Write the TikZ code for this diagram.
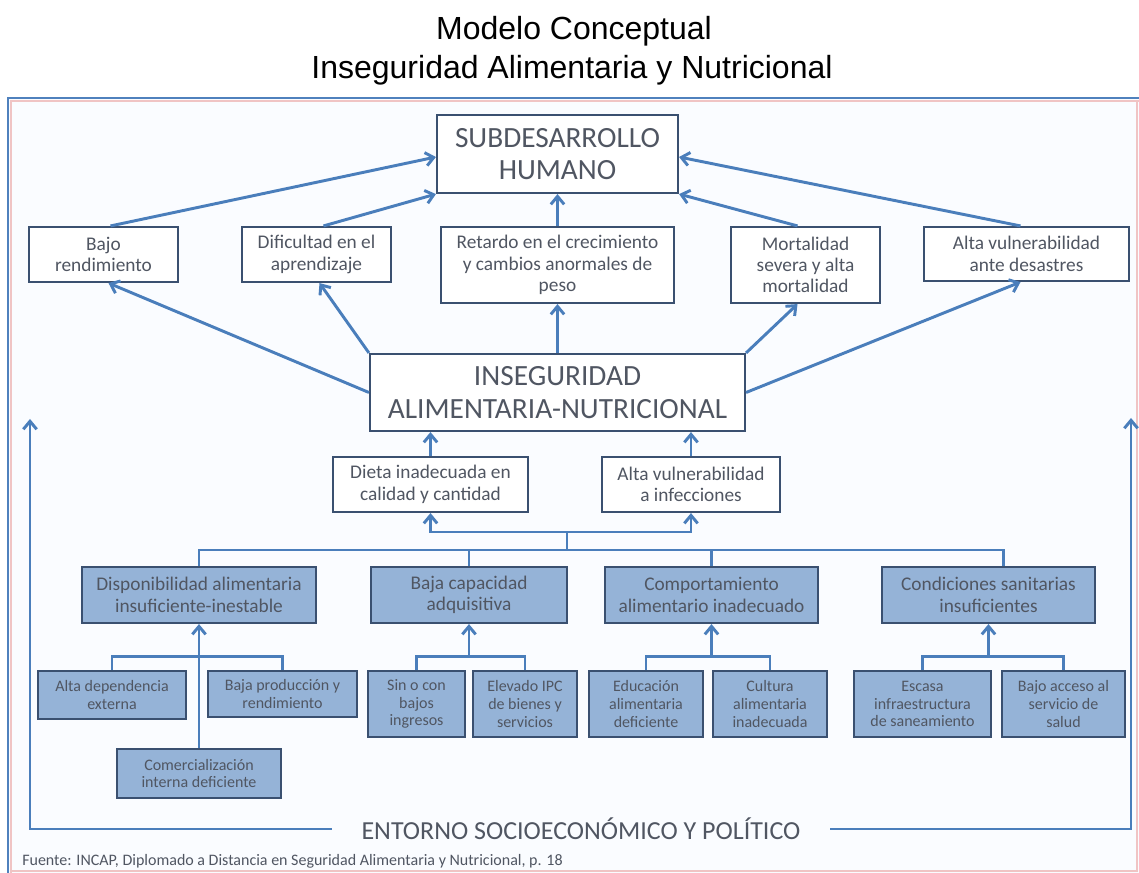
\documentclass[tikz,border=0pt]{standalone}
\usepackage{fontspec}
\setmainfont{Carlito}
\newfontfamily\titlef{Liberation Sans}
\usetikzlibrary{calc,arrows.meta}
\definecolor{lineblue}{RGB}{74,126,187}
\definecolor{boxborder}{RGB}{58,80,112}
\definecolor{txt}{RGB}{80,86,98}
\definecolor{catfill}{RGB}{149,179,215}
\definecolor{framebg}{RGB}{250,252,255}
\definecolor{frameblue}{RGB}{79,129,189}
\definecolor{framepink}{RGB}{240,196,196}
\tikzset{
  ln/.style={draw=lineblue, line width=2.2pt},
  arr/.style={ln, -{Straight Barb[length=6pt,width=10pt]}},
  bx/.style={draw=boxborder, line width=1.6pt, fill=white, inner sep=0pt, align=center, text=txt},
  sz/.style 2 args={minimum width=#1pt, minimum height=#2pt},
  big/.style={bx, font=\fontsize{22}{24.5}\selectfont},
  mid/.style={bx, font=\fontsize{14.5}{16}\selectfont},
  cat/.style={mid, fill=catfill},
  sml/.style={bx, fill=catfill, font=\fontsize{12}{13.3}\selectfont},
}
\begin{document}
\begin{tikzpicture}[x=0.75pt,y=-0.75pt]
\useasboundingbox (0,0) rectangle (1139,873);
\fill[white] (0,0) rectangle (1139,873);
% frame
\fill[framebg] (8,98) rectangle (1139,873);
\draw[framepink, line width=0.9pt] (11,873) -- (11,101) -- (1139,101);
\draw[framepink, line width=0.9pt] (11,871) -- (1137,871) -- (1137,101);
\draw[frameblue, line width=2pt] (8,873) -- (8,98) -- (1139,98);
% titles
\node[font=\titlef\fontsize{24}{28}\selectfont, anchor=base] (t1) at (574,40) {Modelo Conceptual};
\node[font=\titlef\fontsize{24}{28}\selectfont, anchor=base] (t2) at (572,79) {Inseguridad Alimentaria y Nutricional};
% top
\node[big, sz={180.75}{58.5}] (sub) at (557.5,154) {SUBDESARROLLO\\HUMANO};
\node[mid, sz={111.75}{41.25}] (bajo) at (103.5,254.5) {Bajo\\rendimiento};
\node[mid, sz={111.75}{41.25}] (dif) at (316.5,254.5) {Dificultad en el\\aprendizaje};
\node[mid, sz={174.75}{57}] (ret) at (557.5,265) {Retardo en el crecimiento\\y cambios anormales de\\peso};
\node[mid, sz={111.75}{57}] (mort) at (805.5,265) {Mortalidad\\severa y alta\\mortalidad};
\node[mid, sz={153.75}{40.5}] (alta) at (1026.5,254) {Alta vulnerabilidad\\ante desastres};
\node[big, sz={281.25}{57.75}] (inseg) at (557.5,392.5) {INSEGURIDAD\\ALIMENTARIA-NUTRICIONAL};
\node[mid, sz={146.25}{41.25}] (dieta) at (430.5,484.5) {Dieta inadecuada en\\calidad y cantidad};
\node[mid, sz={133.5}{41.25}] (inf) at (691,484.5) {Alta vulnerabilidad\\a infecciones};
% categories
\node[cat, sz={175.5}{42}] (disp) at (199,595) {Disponibilidad alimentaria\\insuficiente-inestable};
\node[cat, sz={147}{42}] (baja) at (469,595) {Baja capacidad\\adquisitiva};
\node[cat, sz={159.75}{42}] (comp) at (711.5,595) {Comportamiento\\alimentario inadecuado};
\node[cat, sz={159.75}{42}] (cond) at (988.5,595) {Condiciones sanitarias\\insuficientes};
% sub factors
\node[sml, sz={111}{36}] (ade) at (112,695) {Alta dependencia\\externa};
\node[sml, sz={111.75}{34.5}] (bpr) at (282.5,694) {Baja producción y\\rendimiento};
\node[sml, sz={123}{36.75}] (com) at (199,773.5) {Comercialización\\interna deficiente};
\node[sml, sz={72.75}{49.5}] (sin) at (416.5,704) {Sin o con\\bajos\\ingresos};
\node[sml, sz={78}{49.5}] (ipc) at (525,704) {Elevado IPC\\de bienes y\\servicios};
\node[sml, sz={85.5}{49.5}] (edu) at (646,704) {Educación\\alimentaria\\deficiente};
\node[sml, sz={85.5}{49.5}] (cul) at (770,704) {Cultura\\alimentaria\\inadecuada};
\node[sml, sz={102.75}{49.5}] (esc) at (922.5,704) {Escasa\\infraestructura\\de saneamiento};
\node[sml, sz={92.25}{49.5}] (bac) at (1063.5,704) {Bajo acceso al\\servicio de\\salud};
% environment & source
\node[text=txt, font=\fontsize{19.5}{22}\selectfont, inner xsep=22pt, inner ysep=0pt] (ent) at (581,829) {ENTORNO SOCIOECONÓMICO Y POLÍTICO};
\node[text=txt, font=\fontsize{12}{14}\selectfont, anchor=west, inner sep=0pt] (src) at (22,861) {Fuente: INCAP, Diplomado a Distancia en Seguridad Alimentaria y Nutricional, p. 18};
% connectors to SUBDESARROLLO
\draw[arr] ($(bajo.north)+(7,0)$) -- ($(sub.west)+(0,3)$);
\draw[arr] ($(dif.north)+(7,0)$) -- (sub.south west);
\draw[arr] (ret.north) -- (sub.south);
\draw[arr] ($(mort.north)+(-8,0)$) -- (sub.south east);
\draw[arr] ($(alta.north)+(-6,0)$) -- ($(sub.east)+(0,3)$);
% from INSEGURIDAD
\draw[arr] (inseg.west) -- ($(bajo.south)+(5,0)$);
\draw[arr] (inseg.north west) -- ($(dif.south)+(3,0)$);
\draw[arr] (inseg.north) -- (ret.south);
\draw[arr] (inseg.north east) -- ($(mort.south)+(-8,0)$);
\draw[arr] (inseg.east) -- ($(alta.south)+(-6,0)$);
% to INSEGURIDAD
\draw[arr] (dieta.north) -- (dieta.north |- inseg.south);
\draw[arr] (inf.north) -- (inf.north |- inseg.south);
% bracket under dieta / infecciones
\coordinate (jd) at (567,550);
\coordinate (jb) at (567,532);
\draw[ln] (jd) -- (jb);
\draw[arr] (jb) -| (dieta.south);
\draw[arr] (jb) -| (inf.south);
% category bus
\coordinate (cdrop) at ($(cond.north)+(15,0)$);
\draw[ln] (disp.north) |- (cdrop |- jd) -- (cdrop);
\draw[ln] (baja.north) -- (baja.north |- jd);
\draw[ln] (comp.north) -- (comp.north |- jd);
% sub-level brackets
\coordinate (b1) at ($(disp.south)+(0,32)$);
\draw[ln] (ade.north) |- (b1) -| (bpr.north);
\draw[arr] (com.north) -- (disp.south);
\coordinate (b2) at ($(baja.south)+(0,32)$);
\draw[ln] (sin.north) |- (b2) -| (ipc.north);
\draw[arr] (b2) -- (baja.south);
\coordinate (b3) at ($(comp.south)+(0,32)$);
\draw[ln] (edu.north) |- (b3) -| (cul.north);
\draw[arr] (b3) -- (comp.south);
\coordinate (b4) at ($(cond.south)+(0,32)$);
\draw[ln] (esc.north) |- (b4) -| (bac.north);
\draw[arr] (b4) -- (cond.south);
% environment arrows
\coordinate (lt) at (30,419);
\coordinate (rt) at (1131,418);
\draw[arr] (ent.west) -| (lt);
\draw[arr] (ent.east) -| (rt);
\end{tikzpicture}
\end{document}
